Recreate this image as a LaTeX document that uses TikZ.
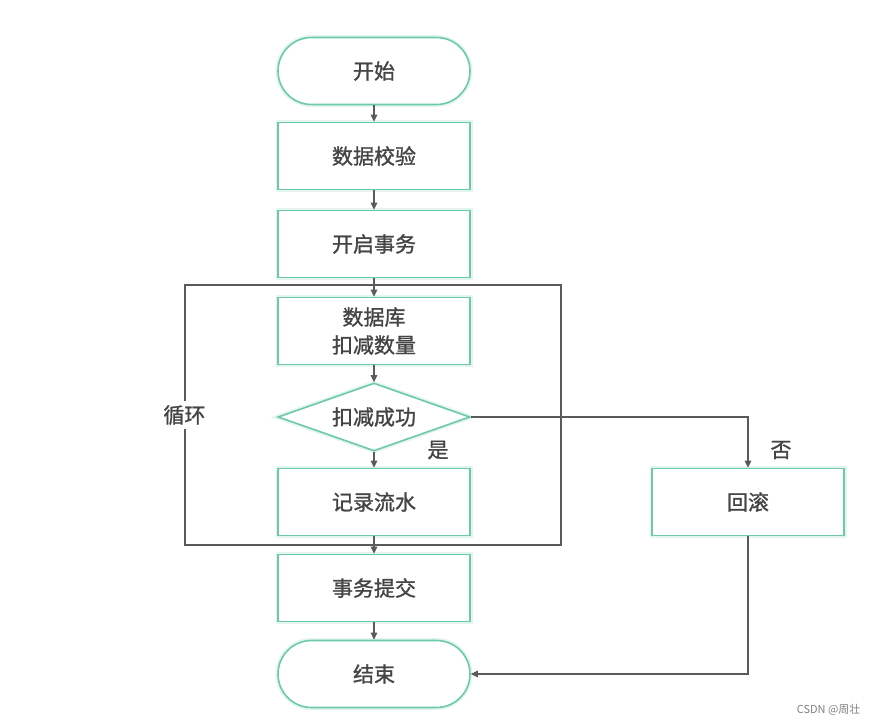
\documentclass[tikz,border=0pt]{standalone}
\usepackage{fontspec}
\setmainfont{Noto Sans CJK SC}[FakeBold=1.2]
\newfontfamily\wmfont{Noto Sans CJK SC}
\usetikzlibrary{shapes.geometric,arrows.meta}
\definecolor{mint}{HTML}{6CCBA6}
\definecolor{halo}{HTML}{E4F5EE}
\definecolor{linegray}{HTML}{5A5A5A}
\definecolor{txt}{HTML}{454545}
\tikzset{
  box/.style={draw=mint, line width=1.6pt, fill=white, text=txt, font=\fontsize{21}{28}\selectfont,
    minimum width=192pt, minimum height=67pt, inner sep=0pt, align=center,
    preaction={draw=halo, line width=5pt}},
  term/.style={box, rounded corners=33.5pt},
  dec/.style={box, diamond, aspect=2.82, minimum width=192pt, minimum height=68pt},
  conn/.style={draw=linegray, line width=1.2pt, -{Triangle[length=7pt,width=6.5pt]}},
  plain/.style={draw=linegray, line width=1.2pt},
  lbl/.style={text=txt, font=\fontsize{21}{26}\selectfont, inner sep=1pt},
}
\begin{document}
\begin{tikzpicture}[x=1pt,y=-1pt]
\useasboundingbox (0,0) rectangle (879,726);
% loop frame
\node[plain, minimum width=376pt, minimum height=260pt, inner sep=0pt] (loop) at (373,415) {};
\node[lbl, fill=white, inner sep=4pt] (looplbl) at (loop.west) {循环};

\node[term] (start) at (374,71) {开始};
\node[box] (check) at (374,156) {数据校验};
\node[box] (begin) at (374,244) {开启事务};
\node[box] (deduct) at (374,331) {数据库\\扣减数量};
\node[dec] (ok) at (374,417) {扣减成功};
\node[box] (log) at (374,502) {记录流水};
\node[box] (commit) at (374,588) {事务提交};
\node[term] (end) at (374,674) {结束};
\node[box] (rollback) at (748,502) {回滚};

\node[lbl] (yes) at (438,450) {是};
\node[lbl] (no) at (781,450) {否};

\path[conn] (start) -- (check);
\path[conn] (check) -- (begin);
\path[conn] (begin) -- (deduct);
\path[conn] (deduct) -- (ok);
\path[conn] (ok) -- (log);
\path[conn] (log) -- (commit);
\path[conn] (commit) -- (end);
\path[conn] (ok.east) -| (rollback.north);
\path[conn] (rollback.south) |- (end.east);

\node[text=gray, font=\wmfont\fontsize{11}{13}\selectfont, anchor=east] (wm) at (864,710) {CSDN @周壮};
\end{tikzpicture}
\end{document}
